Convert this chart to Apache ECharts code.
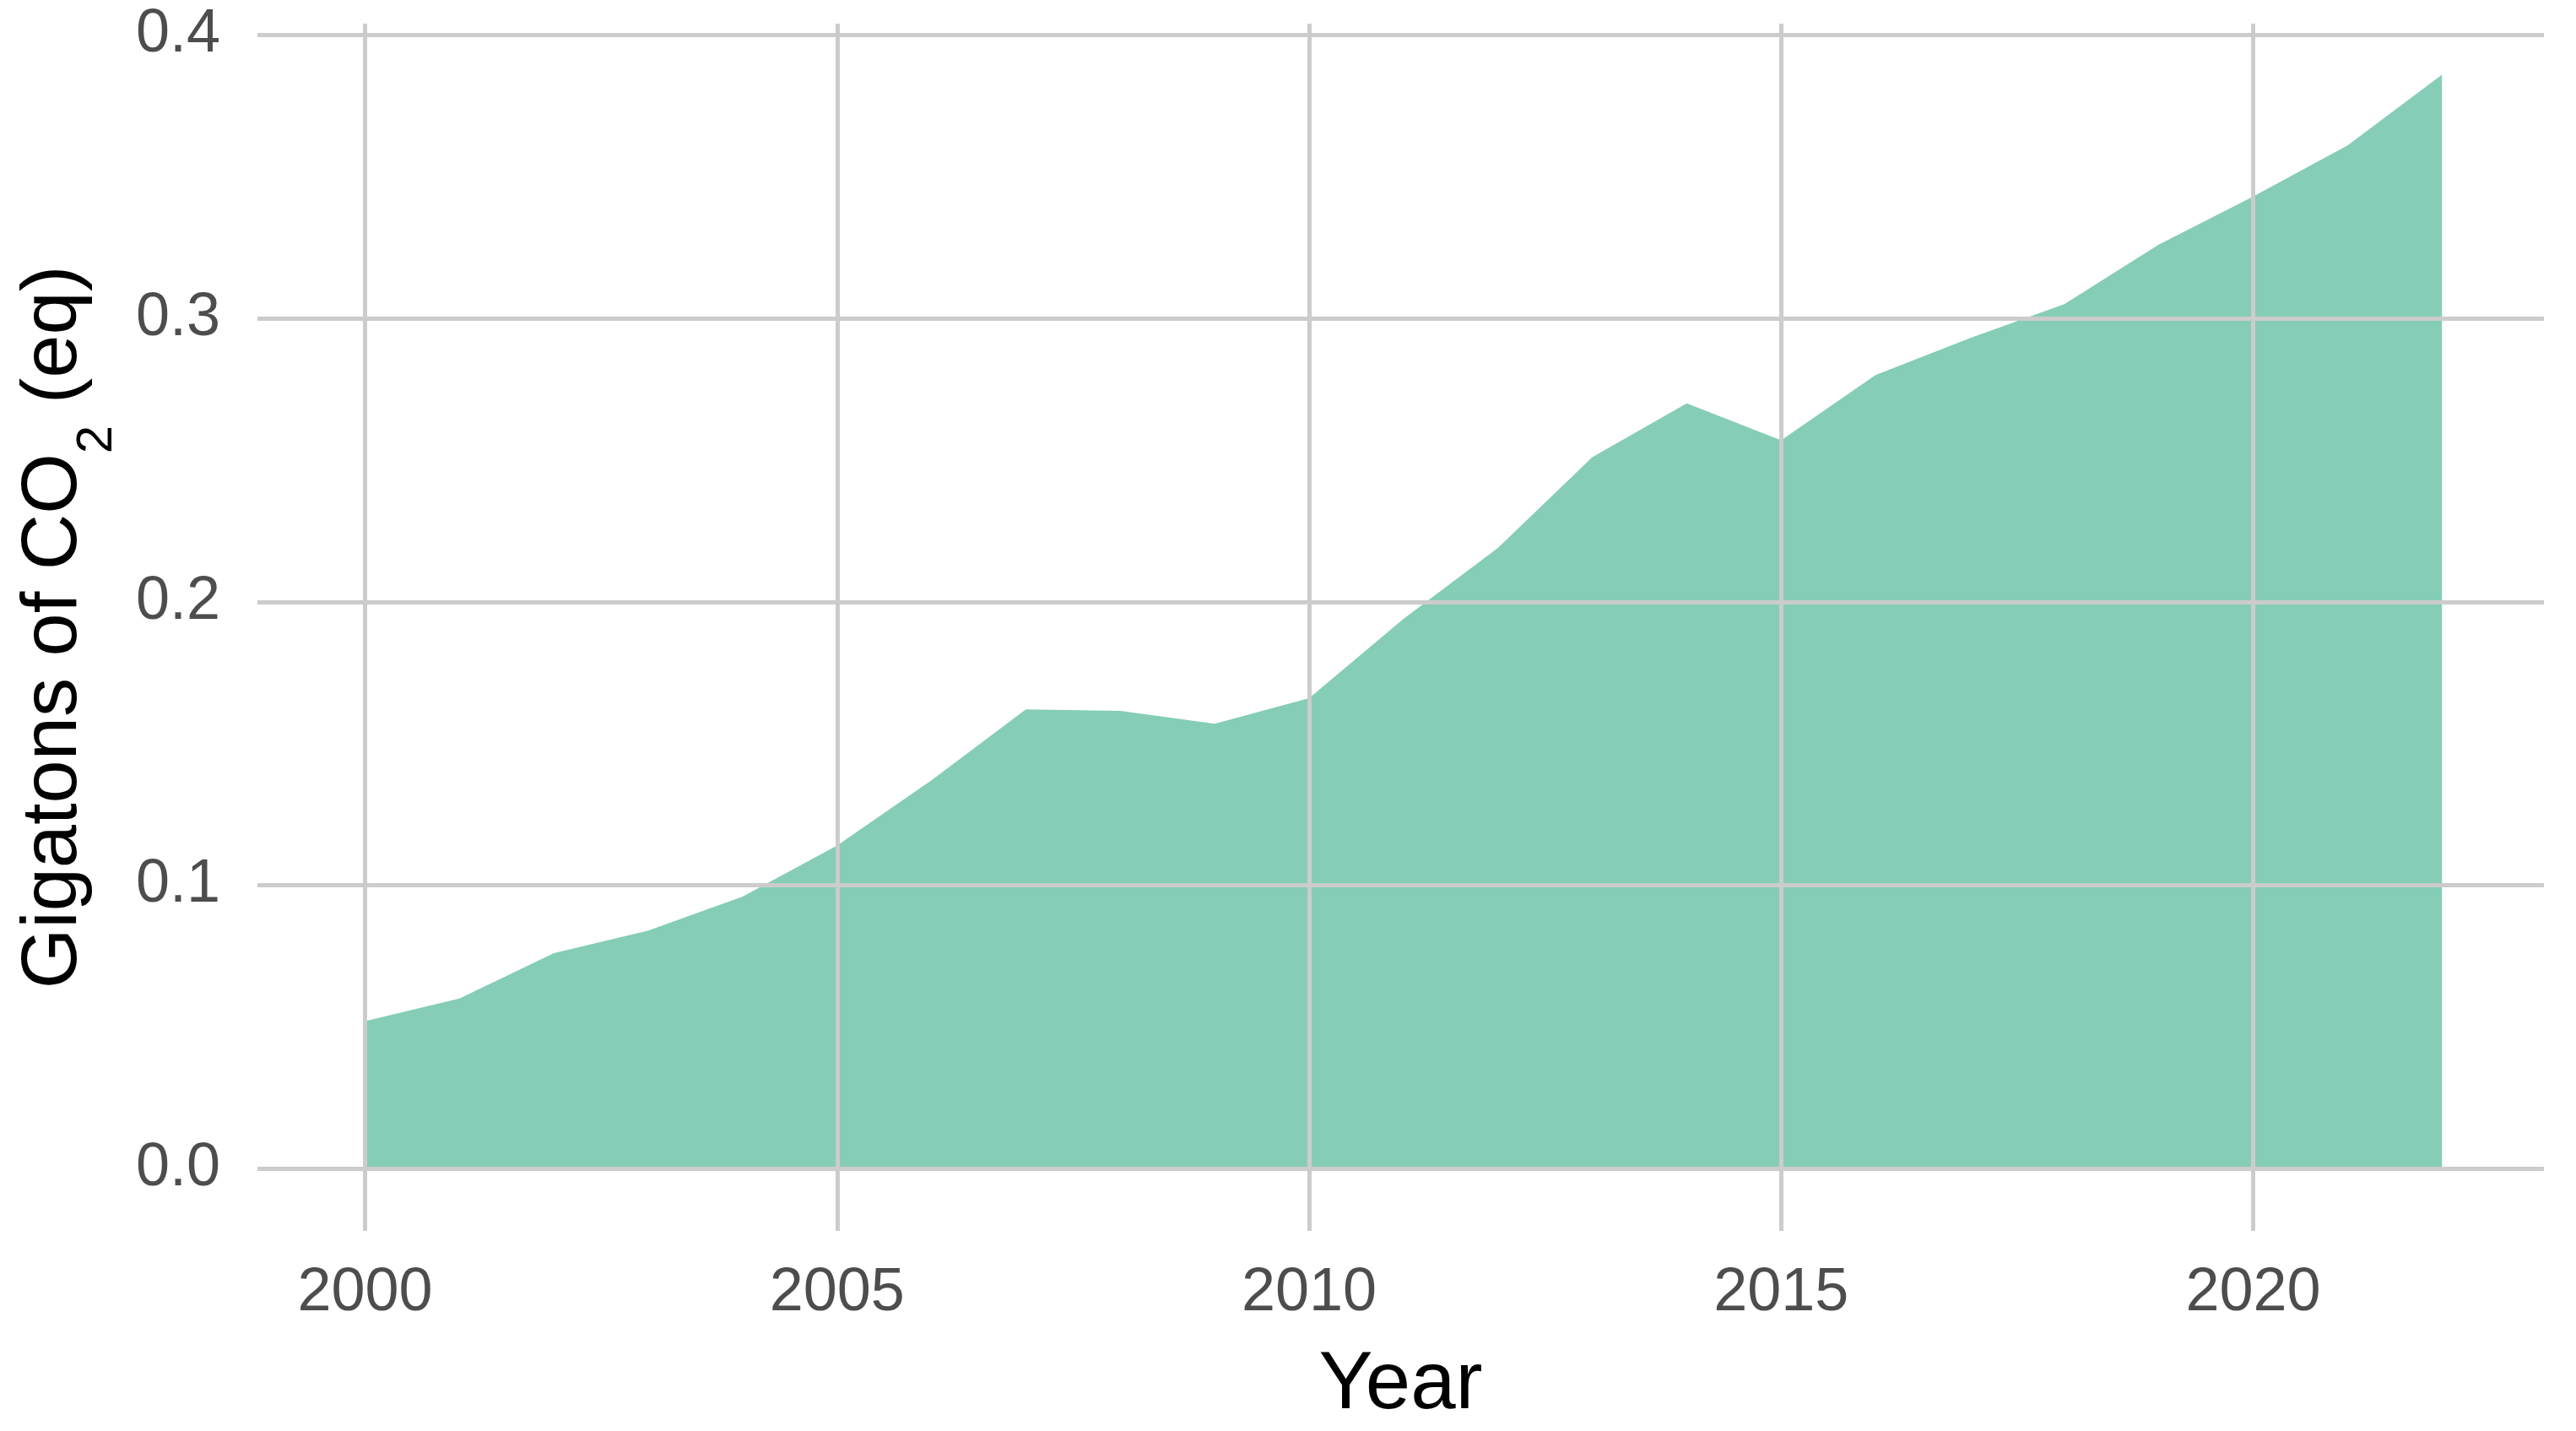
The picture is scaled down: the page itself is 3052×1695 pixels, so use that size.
<!DOCTYPE html>
<html><head><meta charset="utf-8">
<script src="https://cdn.jsdelivr.net/npm/echarts@6/dist/echarts.min.js"></script>
<style>html,body{margin:0;padding:0;background:#fff}#c{width:3052px;height:1695px}</style>
</head><body><div id="c"></div>
<script>
const years = [2000,2001,2002,2003,2004,2005,2006,2007,2008,2009,2010,2011,2012,2013,2014,2015,2016,2017,2018,2019,2020,2021,2022];
const values = [0.052,0.060,0.076,0.084,0.096,0.114,0.137,0.162,0.1615,0.157,0.166,0.194,0.219,0.251,0.270,0.257,0.280,0.293,0.305,0.326,0.343,0.361,0.386];
const xTicks = [2000,2005,2010,2015,2020];
const yTicks = [0,0.1,0.2,0.3,0.4];
const chart = echarts.init(document.getElementById('c'));
const gl = {color:'#cccccc', width:5, type:'solid'};
const lblFont = {fontFamily:'Liberation Sans, Arial', fontSize:72, color:'#4d4d4d'};
chart.setOption({
  animation:false,
  grid:{left:305,right:38,top:28,bottom:199},
  xAxis:{type:'value',min:1998.86,max:2023.08,axisLine:{show:false},axisTick:{show:false},axisLabel:{show:false},splitLine:{show:false},
    name:'Year',nameLocation:'middle',nameGap:136,nameTextStyle:{fontFamily:'Liberation Sans, Arial',fontSize:96,color:'#000'}},
  yAxis:{type:'value',min:-0.022,max:0.404,axisLine:{show:false},axisTick:{show:false},axisLabel:{show:false},splitLine:{show:false},
    name:'{a|Gigatons of CO}{s|2}{a| (eq)}',nameLocation:'middle',nameGap:194,
    nameTextStyle:{rich:{a:{fontFamily:'Liberation Sans, Arial',fontSize:92,color:'#000'},s:{fontFamily:'Liberation Sans, Arial',fontSize:60,color:'#000',verticalAlign:'bottom',padding:[0,0,-34,0]}}}},
  series:[
    {type:'line',data:[],silent:true,z:1,
     markLine:{silent:true,symbol:'none',animation:false,
       data:[
         ...yTicks.map(v=>({yAxis:v,lineStyle:gl,label:{show:true,position:'start',distance:44,formatter:v.toFixed(1),...lblFont}})),
         ...xTicks.map(v=>({xAxis:v,lineStyle:gl,label:{show:true,position:'start',distance:38,formatter:String(v),...lblFont}}))
       ]}},
    {type:'line',z:2,data:years.map((y,i)=>[y,values[i]]),showSymbol:false,lineStyle:{width:0},
     areaStyle:{color:'#85cdb6',opacity:1,origin:0}}
  ]
});
</script></body></html>
